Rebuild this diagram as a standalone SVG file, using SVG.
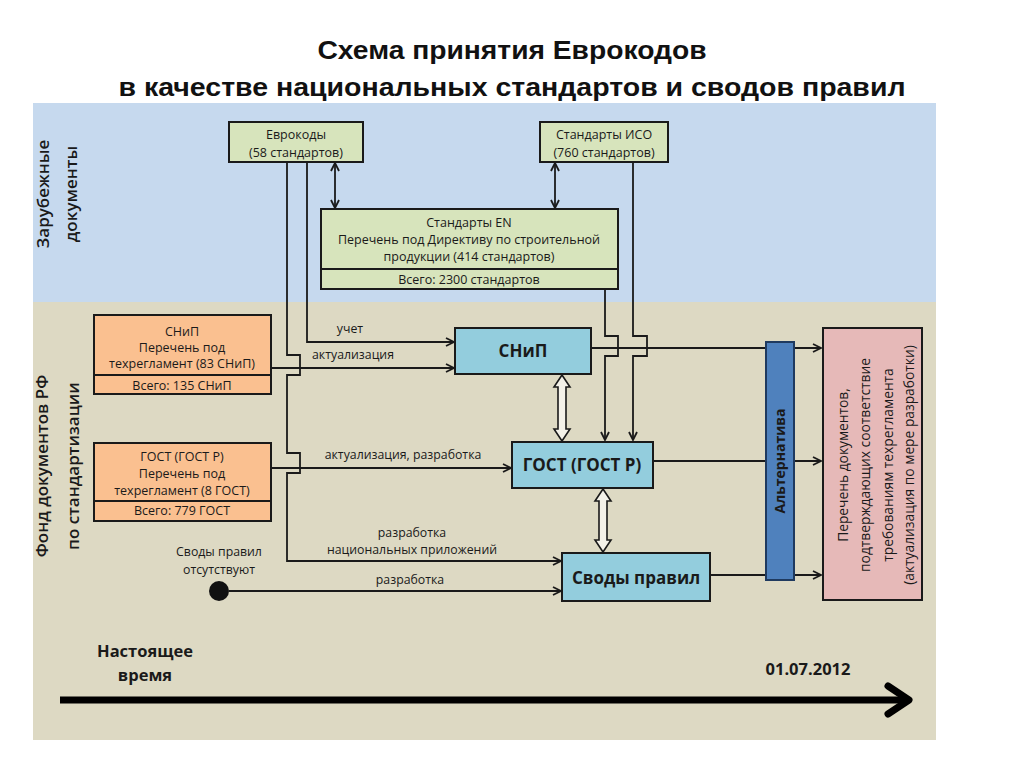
<svg xmlns="http://www.w3.org/2000/svg" width="1024" height="768" viewBox="0 0 1024 768">
<defs>
<marker id="arr" viewBox="0 0 10 10" refX="9" refY="5" markerWidth="10" markerHeight="10" markerUnits="userSpaceOnUse" orient="auto-start-reverse">
<path d="M1,1 L9,5 L1,9" fill="none" stroke="#1a1a1a" stroke-width="1.8"/>
</marker>
<style>
.t{font-family:"Open Sans","Liberation Sans",sans-serif;fill:#1a1a1a;text-anchor:middle}
.s{font-size:12.5px}
.lab{font-size:12.3px}
.big{font-size:17px;font-weight:bold}
.box{stroke:#1a1a1a;stroke-width:2}
.green{fill:#d7e4bc}
.orange{fill:#fac090}
.blue{fill:#93cddd}
.ln{fill:none;stroke:#1a1a1a;stroke-width:1.8}
.blk{fill:#f3f1e8;stroke:#1a1a1a;stroke-width:1.6}
.side{font-family:"Open Sans","Liberation Sans",sans-serif;font-size:17px;font-weight:600;fill:#1a1a1a;text-anchor:middle}
</style>
</defs>
<rect x="0" y="0" width="1024" height="768" fill="#ffffff"/>
<rect x="33" y="103" width="903" height="200" fill="#c6d9ee"/>
<rect x="33" y="302" width="903" height="438" fill="#ddd9c3"/>

<g id="title" font-family="Liberation Sans, Arial, sans-serif" font-weight="bold" font-size="25" fill="#111" text-anchor="middle">
<text x="512" y="59" textLength="389" lengthAdjust="spacingAndGlyphs">Схема принятия Еврокодов</text>
<text x="512" y="96" textLength="787" lengthAdjust="spacingAndGlyphs">в качестве национальных стандартов и сводов правил</text>
</g>

<g id="side-labels">
<text class="side" transform="translate(49,194) rotate(-90)">Зарубежные</text>
<text class="side" transform="translate(77,194) rotate(-90)">документы</text>
<text class="side" font-weight="bold" transform="translate(48,466) rotate(-90)">Фонд документов РФ</text>
<text class="side" font-weight="bold" transform="translate(79,466) rotate(-90)">по стандартизации</text>
</g>

<g id="connectors">
<line class="ln" x1="335" y1="163" x2="335" y2="208" marker-start="url(#arr)" marker-end="url(#arr)"/>
<line class="ln" x1="555" y1="163" x2="555" y2="208" marker-start="url(#arr)" marker-end="url(#arr)"/>
<path class="ln" d="M307,162 V342 H454" marker-end="url(#arr)"/>
<path class="ln" d="M287,162 V355 H300 V375 H287 V453 H300 V473 H287 V561 H561" marker-end="url(#arr)"/>
<path class="ln" d="M271,368 H454" marker-end="url(#arr)"/>
<path class="ln" d="M271,468 H511" marker-end="url(#arr)"/>
<path class="ln" d="M229,591 H561" marker-end="url(#arr)"/>
<path class="ln" d="M605,289 V336 H618 V356 H605 V440" marker-end="url(#arr)"/>
<path class="ln" d="M633,162 V336 H647 V356 H633 V440" marker-end="url(#arr)"/>
<path class="ln" d="M591,348 H821" marker-end="url(#arr)"/>
<path class="ln" d="M653,461 H821" marker-end="url(#arr)"/>
<path class="ln" d="M710,575 H821" marker-end="url(#arr)"/>
<polygon class="blk" points="562,375 570,387 566,387 566,429 570,429 562,441 554,429 558,429 558,387 554,387"/>
<polygon class="blk" points="603,489 611,501 607,501 607,540 611,540 603,552 595,540 599,540 599,501 595,501"/>
<text class="t lab" x="350" y="333">учет</text>
<text class="t lab" x="353" y="359">актуализация</text>
<text class="t lab" x="403" y="459">актуализация, разработка</text>
<text class="t lab" x="412" y="537">разработка</text>
<text class="t lab" x="412" y="554">национальных приложений</text>
<text class="t lab" x="410" y="584">разработка</text>
</g>

<g id="eurocodes">
<rect class="box green" x="229" y="122" width="134" height="40"/>
<text class="t s" x="296" y="139">Еврокоды</text>
<text class="t s" x="296" y="157">(58 стандартов)</text>
</g>

<g id="iso">
<rect class="box green" x="540" y="122" width="128" height="40"/>
<text class="t s" x="604" y="139">Стандарты ИСО</text>
<text class="t s" x="604" y="157">(760 стандартов)</text>
</g>

<g id="en">
<rect class="box green" x="321" y="209" width="297" height="80"/>
<line class="box" x1="321" y1="269" x2="618" y2="269"/>
<text class="t s" x="469" y="227">Стандарты EN</text>
<text class="t s" x="469" y="244">Перечень под Директиву по строительной</text>
<text class="t s" x="469" y="261">продукции (414 стандартов)</text>
<text class="t s" x="469" y="284">Всего: 2300 стандартов</text>
</g>

<g id="snip-list">
<rect class="box orange" x="94" y="315" width="177" height="79"/>
<line class="box" x1="94" y1="375" x2="271" y2="375"/>
<text class="t s" x="182" y="336">СНиП</text>
<text class="t s" x="182" y="352">Перечень под</text>
<text class="t s" x="182" y="368">техрегламент (83 СНиП)</text>
<text class="t s" x="182" y="390">Всего: 135 СНиП</text>
</g>

<g id="gost-list">
<rect class="box orange" x="94" y="443" width="177" height="78"/>
<line class="box" x1="94" y1="501" x2="271" y2="501"/>
<text class="t s" x="182" y="461">ГОСТ (ГОСТ Р)</text>
<text class="t s" x="182" y="478">Перечень под</text>
<text class="t s" x="182" y="495">техрегламент (8 ГОСТ)</text>
<text class="t s" x="182" y="515">Всего: 779 ГОСТ</text>
</g>

<g id="snip">
<rect class="box blue" x="455" y="328" width="136" height="46"/>
<text class="t big" x="523" y="357">СНиП</text>
</g>

<g id="gost">
<rect class="box blue" x="512" y="442" width="141" height="46"/>
<text class="t big" x="582" y="471">ГОСТ (ГОСТ Р)</text>
</g>

<g id="svody">
<rect class="box blue" x="562" y="553" width="148" height="48"/>
<text class="t big" x="636" y="584">Своды правил</text>
</g>

<g id="no-svody">
<circle cx="219" cy="591" r="10" fill="#111"/>
<text class="t lab" x="219" y="556">Своды правил</text>
<text class="t lab" x="219" y="574">отсутствуют</text>
</g>

<g id="alternativa">
<rect x="766" y="342" width="28" height="238" fill="#4f81bd" stroke="#1f3a5f" stroke-width="2"/>
<text class="t" font-size="14" font-weight="bold" transform="translate(785,461) rotate(-90)">Альтернатива</text>
</g>

<g id="result-list">
<rect x="823" y="328" width="99" height="272" fill="#e6b9b8" stroke="#1a1a1a" stroke-width="2"/>
<g class="t" font-size="13.8">
<text transform="translate(848,465) rotate(-90)">Перечень документов,</text>
<text transform="translate(870,465) rotate(-90)">подтверждающих соответствие</text>
<text transform="translate(893,465) rotate(-90)">требованиям техрегламента</text>
<text transform="translate(914,465) rotate(-90)">(актуализация по мере разработки)</text>
</g>
</g>

<g id="timeline">
<line x1="60" y1="700" x2="905" y2="700" stroke="#000" stroke-width="7"/>
<polyline points="888,686 909,700 888,714" fill="none" stroke="#000" stroke-width="7" stroke-linecap="round" stroke-linejoin="round"/>
<text class="t" font-size="16.5" font-weight="bold" x="145" y="657">Настоящее</text>
<text class="t" font-size="16.5" font-weight="bold" x="145" y="681">время</text>
<text class="t" font-size="16.5" font-weight="bold" x="808" y="675">01.07.2012</text>
</g>
</svg>
